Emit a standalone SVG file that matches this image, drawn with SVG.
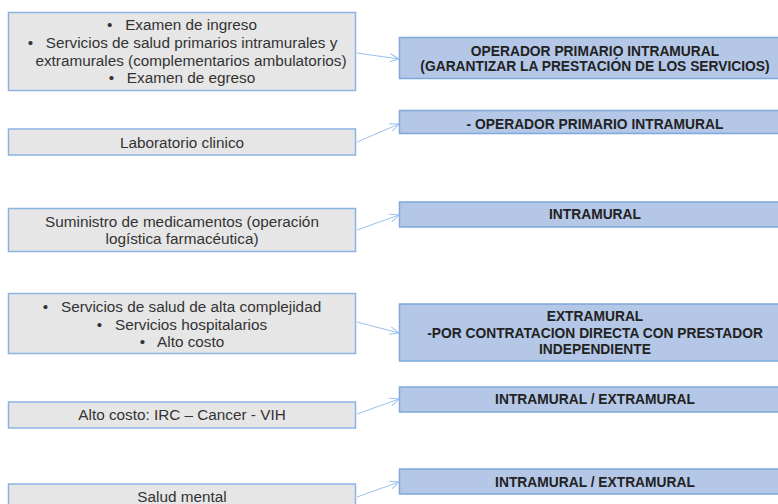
<svg xmlns="http://www.w3.org/2000/svg" width="778" height="504" viewBox="0 0 778 504">
<style>
.l rect{fill:#e6e6e6;stroke:#8cb4e2;stroke-width:1.5}
.r rect{fill:#b4c7e7;stroke:#7fa8da;stroke-width:1.5}
text{white-space:pre}
.l text{font-family:"Liberation Sans",Arial,sans-serif;font-size:15.3px;fill:#333;text-anchor:middle}
.r text{font-family:"Liberation Sans",Arial,sans-serif;font-size:13.8px;font-weight:bold;fill:#222;text-anchor:middle}
#connectors line{stroke:#9cc0ea;stroke-width:1;fill:none;marker-end:url(#ah)}
</style>
<defs>
<marker id="ah" viewBox="0 0 10 10" refX="10" refY="5" markerWidth="10" markerHeight="10" markerUnits="userSpaceOnUse" orient="auto">
<path d="M1,1 L10,5 L1,9" fill="none" stroke="#9cc0ea" stroke-width="1"/>
</marker>
</defs>
<rect width="778" height="504" fill="#fff"/>

<g id="l1" class="l"><rect x="8.5" y="12.5" width="347" height="78"/>
<text x="182" y="30" xml:space="preserve">•   Examen de ingreso</text>
<text x="182.5" y="48" xml:space="preserve">•   Servicios de salud primarios intramurales y</text>
<text x="191" y="66">extramurales (complementarios ambulatorios)</text>
<text x="182" y="83" xml:space="preserve">•   Examen de egreso</text></g>
<g id="l2" class="l"><rect x="8.5" y="129" width="347" height="26"/>
<text x="182" y="148">Laboratorio clinico</text></g>
<g id="l3" class="l"><rect x="8.5" y="208.5" width="347" height="43"/>
<text x="182" y="227">Suministro de medicamentos (operación</text>
<text x="182" y="244">logística farmacéutica)</text></g>
<g id="l4" class="l"><rect x="8.5" y="293.5" width="347" height="60"/>
<text x="182" y="312" xml:space="preserve">•   Servicios de salud de alta complejidad</text>
<text x="182" y="330" xml:space="preserve">•   Servicios hospitalarios</text>
<text x="182" y="347" xml:space="preserve">•   Alto costo</text></g>
<g id="l5" class="l"><rect x="8.5" y="402" width="347" height="26"/>
<text x="182" y="420">Alto costo: IRC – Cancer - VIH</text></g>
<g id="l6" class="l"><rect x="8.5" y="484" width="347" height="30"/>
<text x="182" y="502">Salud mental</text></g>

<g id="r1" class="r"><rect x="399.5" y="37.5" width="392" height="41"/>
<text x="595" y="55.5">OPERADOR PRIMARIO INTRAMURAL</text>
<text x="595" y="71">(GARANTIZAR LA PRESTACIÓN DE LOS SERVICIOS)</text></g>
<g id="r2" class="r"><rect x="399.5" y="110.5" width="392" height="23"/>
<text x="595" y="129">- OPERADOR PRIMARIO INTRAMURAL</text></g>
<g id="r3" class="r"><rect x="399.5" y="202" width="392" height="25"/>
<text x="595" y="219">INTRAMURAL</text></g>
<g id="r4" class="r"><rect x="399.5" y="304" width="392" height="57"/>
<text x="595" y="321">EXTRAMURAL</text>
<text x="595" y="337.5">-POR CONTRATACION DIRECTA CON PRESTADOR</text>
<text x="595" y="354">INDEPENDIENTE</text></g>
<g id="r5" class="r"><rect x="399.5" y="387" width="392" height="25"/>
<text x="595" y="404">INTRAMURAL / EXTRAMURAL</text></g>
<g id="r6" class="r"><rect x="399.5" y="469" width="392" height="25"/>
<text x="595" y="487">INTRAMURAL / EXTRAMURAL</text></g>

<g id="connectors">
<line x1="357" y1="53" x2="399" y2="59"/>
<line x1="357" y1="142" x2="399" y2="124"/>
<line x1="357" y1="230" x2="399" y2="215"/>
<line x1="357" y1="322" x2="399" y2="333"/>
<line x1="357" y1="414" x2="399" y2="399"/>
<line x1="357" y1="497" x2="399" y2="482"/>
</g>
</svg>
